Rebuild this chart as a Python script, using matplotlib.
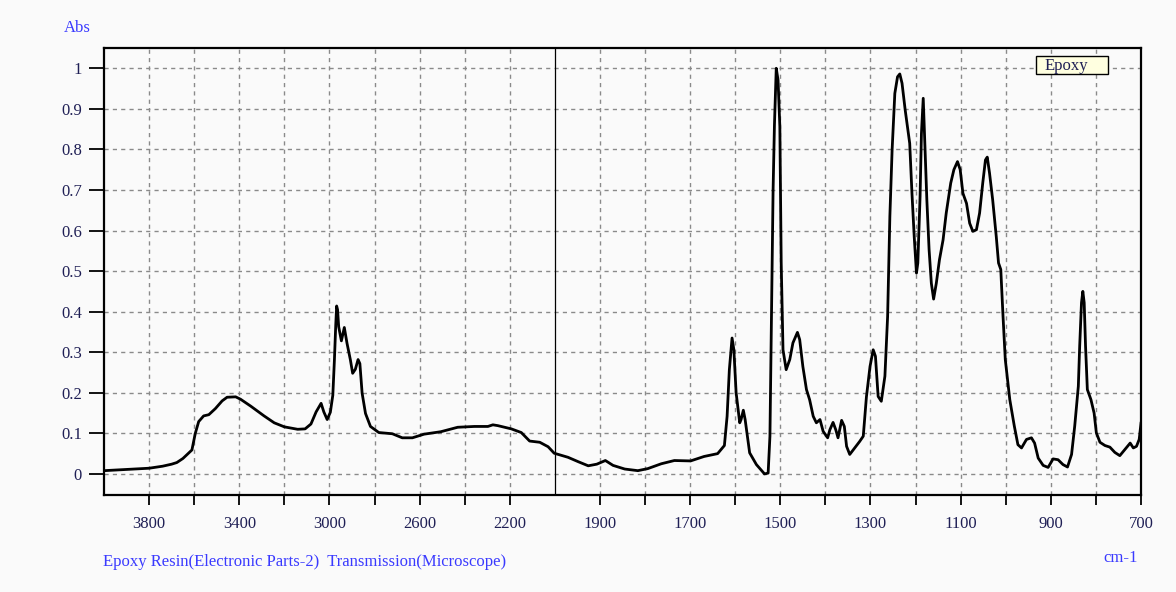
import numpy as np
import matplotlib
matplotlib.use("Agg")
import matplotlib.pyplot as plt
from matplotlib.patches import Rectangle

# FT-IR absorbance spectrum, epoxy resin
wavenumber = [
    4000, 3900, 3800, 3740, 3700, 3677, 3650, 3625, 3610, 3595, 3580, 3558,
    3535, 3506, 3476, 3454, 3416, 3394, 3349, 3290, 3245, 3200, 3141, 3108,
    3082, 3059, 3037, 3025, 3010, 2996, 2985, 2978, 2972, 2968, 2964, 2959,
    2947, 2934, 2922, 2907, 2897, 2885, 2873, 2865, 2855, 2840, 2818, 2781,
    2721, 2677, 2632, 2580, 2506, 2431, 2357, 2297, 2275, 2253, 2193, 2149,
    2112, 2067, 2030, 2003, 1971, 1948, 1926, 1907, 1888, 1871, 1845, 1816,
    1794, 1764, 1735, 1699, 1669, 1639, 1624, 1618, 1613, 1607, 1603, 1598,
    1590, 1587, 1582, 1578, 1568, 1553, 1535, 1527, 1523, 1520, 1516, 1513,
    1509, 1505, 1501, 1498, 1494, 1487, 1479, 1472, 1462, 1457, 1450, 1442,
    1435, 1427, 1420, 1412, 1405, 1395, 1390, 1383, 1377, 1372, 1364, 1358,
    1353, 1346, 1335, 1324, 1316, 1309, 1301, 1294, 1289, 1283, 1276, 1268,
    1262, 1257, 1252, 1246, 1240, 1235, 1230, 1223, 1213, 1208, 1203, 1198,
    1195, 1190, 1187, 1183, 1180, 1175, 1170, 1165, 1160, 1154, 1147, 1139,
    1132, 1122, 1115, 1107, 1101, 1095, 1087, 1080, 1073, 1065, 1058, 1051,
    1045, 1041, 1036, 1029, 1021, 1016, 1011, 1006, 1001, 991, 981, 973,
    965, 954, 943, 936, 928, 917, 906, 895, 884, 873, 863, 854,
    847, 839, 836, 832, 829, 826, 823, 819, 811, 804, 799, 791,
    780, 769, 758, 747, 736, 724, 717, 710, 704, 700,
]
absorbance = [
    0.008, 0.011, 0.014, 0.019, 0.024, 0.028, 0.038, 0.051, 0.059, 0.100, 0.129, 0.143,
    0.146, 0.161, 0.180, 0.189, 0.190, 0.184, 0.167, 0.143, 0.126, 0.116, 0.110, 0.111,
    0.123, 0.153, 0.174, 0.153, 0.134, 0.152, 0.194, 0.280, 0.367, 0.414, 0.405, 0.363,
    0.328, 0.361, 0.322, 0.281, 0.248, 0.258, 0.282, 0.272, 0.199, 0.149, 0.117, 0.102,
    0.099, 0.089, 0.089, 0.098, 0.104, 0.115, 0.117, 0.117, 0.121, 0.119, 0.111, 0.102,
    0.081, 0.078, 0.067, 0.051, 0.041, 0.030, 0.020, 0.024, 0.033, 0.021, 0.012, 0.008,
    0.013, 0.025, 0.033, 0.032, 0.043, 0.050, 0.070, 0.142, 0.257, 0.335, 0.306, 0.200,
    0.126, 0.134, 0.157, 0.134, 0.052, 0.023, 0.000, 0.002, 0.093, 0.347, 0.700, 0.860,
    1.000, 0.971, 0.856, 0.520, 0.306, 0.257, 0.282, 0.323, 0.349, 0.331, 0.265, 0.208,
    0.183, 0.142, 0.126, 0.134, 0.105, 0.089, 0.109, 0.127, 0.109, 0.089, 0.132, 0.117,
    0.068, 0.048, 0.064, 0.080, 0.093, 0.190, 0.265, 0.306, 0.290, 0.191, 0.179, 0.241,
    0.388, 0.635, 0.799, 0.938, 0.979, 0.986, 0.963, 0.897, 0.815, 0.692, 0.585, 0.495,
    0.520, 0.684, 0.839, 0.926, 0.831, 0.676, 0.553, 0.470, 0.431, 0.470, 0.528, 0.577,
    0.643, 0.717, 0.750, 0.770, 0.750, 0.692, 0.667, 0.618, 0.598, 0.602, 0.643, 0.717,
    0.774, 0.781, 0.742, 0.676, 0.585, 0.520, 0.504, 0.388, 0.282, 0.183, 0.118, 0.072,
    0.064, 0.085, 0.089, 0.076, 0.039, 0.021, 0.016, 0.037, 0.035, 0.023, 0.017, 0.048,
    0.118, 0.216, 0.315, 0.422, 0.450, 0.422, 0.315, 0.208, 0.183, 0.150, 0.101, 0.078,
    0.070, 0.066, 0.053, 0.045, 0.060, 0.076, 0.064, 0.068, 0.085, 0.125,
]

x_ticks = [3800, 3600, 3400, 3200, 3000, 2800, 2600, 2400, 2200,
           1900, 1800, 1700, 1600, 1500, 1400, 1300, 1200, 1100, 1000, 900, 800, 700]
x_labels = ["3800", "", "3400", "", "3000", "", "2600", "", "2200",
            "1900", "", "1700", "", "1500", "", "1300", "", "1100", "", "900", "", "700"]
y_ticks = [0, 0.1, 0.2, 0.3, 0.4, 0.5, 0.6, 0.7, 0.8, 0.9, 1.0]
y_labels = ["0", "0.1", "0.2", "0.3", "0.4", "0.5", "0.6", "0.7", "0.8", "0.9", "1"]

BREAK = 2000


# above 2000 cm-1 the axis is compressed by half
def fwd(x):
    x = np.asarray(x, dtype=float)
    return np.where(x > BREAK, BREAK + (x - BREAK) / 2.0, x)


def inv(u):
    u = np.asarray(u, dtype=float)
    return np.where(u > BREAK, BREAK + (u - BREAK) * 2.0, u)


plt.rcParams['font.family'] = ['Liberation Serif', 'DejaVu Serif']
bg = '#fafafa'
navy = '#1f1f55'
blue = '#3a3aff'
fs = 12

fig = plt.figure(figsize=(11.76, 5.92), dpi=100, facecolor=bg)
ax = fig.add_axes([104 / 1176, 1 - 495 / 592, (1141 - 104) / 1176, (495 - 48) / 592])
ax.set_facecolor(bg)

ax.set_xscale('function', functions=(fwd, inv))
ax.set_xlim(4000, 700)
ax.set_ylim(-0.052, 1.05)

ax.set_xticks(x_ticks)
ax.set_xticklabels(x_labels)
ax.set_yticks(y_ticks)
ax.set_yticklabels(y_labels)
ax.xaxis.set_minor_locator(plt.NullLocator())

ax.grid(True, color='#8a8a8a', linestyle=(0, (3, 3)), linewidth=1.0)
ax.set_axisbelow(True)

ax.tick_params(axis='x', direction='out', length=7, width=1.3, pad=8,
               labelsize=fs, labelcolor=navy)
ax.tick_params(axis='y', direction='out', length=11, width=1.3, pad=5,
               labelsize=fs, labelcolor=navy)
for s in ax.spines.values():
    s.set_linewidth(1.6)
    s.set_color('black')

ax.axvline(BREAK, color='black', linewidth=0.9, zorder=3)
ax.plot(wavenumber, absorbance, color='black', linewidth=2.0, zorder=4,
        solid_joinstyle='round')

# legend box
fig.patches.append(Rectangle((1036 / 1176, 1 - 74 / 592), 72 / 1176, 18 / 592,
                             transform=fig.transFigure, facecolor='#ffffe0',
                             edgecolor='black', linewidth=1.0, zorder=5))
fig.text(1045 / 1176, 1 - 66 / 592, "Epoxy", color=navy, fontsize=fs,
         ha='left', va='center', zorder=6)

fig.text(64 / 1176, 1 - 28 / 592, "Abs", color=blue, fontsize=fs, ha='left', va='center')
fig.text(1138 / 1176, 1 - 558 / 592, "cm-1", color=blue, fontsize=fs, ha='right', va='center')
fig.text(103 / 1176, 1 - 562 / 592,
         "Epoxy Resin(Electronic Parts-2)  Transmission(Microscope)",
         color=blue, fontsize=fs, ha='left', va='center')

fig.savefig("out.png", dpi=100, facecolor=bg)
